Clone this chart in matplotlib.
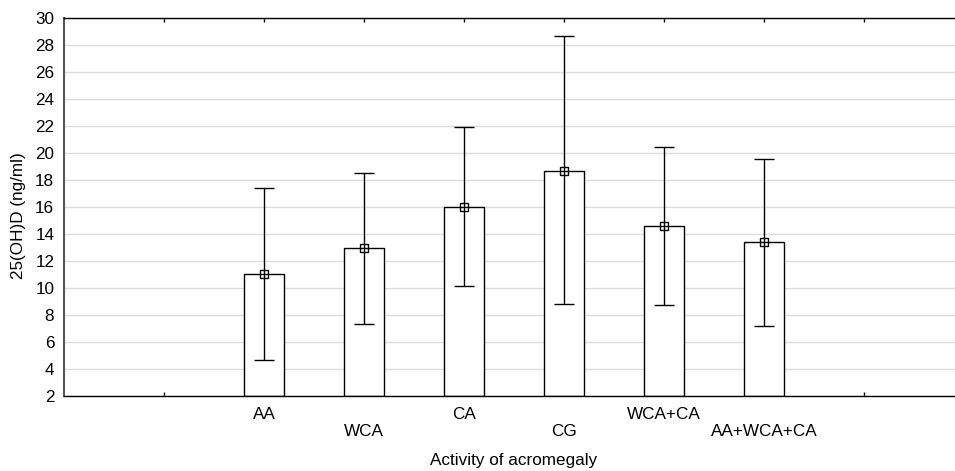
import matplotlib.pyplot as plt
import numpy as np

# group means and whisker ends
groups = ["AA", "WCA", "CA", "CG", "WCA+CA", "AA+WCA+CA"]
means = [11.06, 12.94, 16.02, 18.69, 14.59, 13.38]
upper = [17.43, 18.50, 21.90, 28.64, 20.44, 19.58]
lower = [4.69, 7.36, 10.17, 8.79, 8.76, 7.16]
y_ticks = [2, 4, 6, 8, 10, 12, 14, 16, 18, 20, 22, 24, 26, 28, 30]

plt.rcParams["font.family"] = ["Liberation Sans", "DejaVu Sans"]
fs = 12.3

fig = plt.figure(figsize=(9.55, 4.71), dpi=100)
# axes runs past the right edge on purpose (original is cropped)
ax = fig.add_axes([64 / 955, 75 / 471, 900 / 955, 378 / 471])

pos = np.arange(2, 2 + len(groups))
means = np.array(means)
err = np.vstack([means - np.array(lower), np.array(upper) - means])

ax.bar(pos, means - 2, bottom=2, width=0.4, color="white",
       edgecolor="black", linewidth=1.0, zorder=2)
ax.errorbar(pos, means, yerr=err, fmt="s", ms=5.5, mfc="none", mec="black",
            mew=1.0, ecolor="black", elinewidth=1.0, capsize=7.5,
            capthick=1.0, zorder=3)

ax.set_xlim(0, 9)
ax.set_ylim(2, 30)
ax.set_yticks(y_ticks)
ax.tick_params(axis="y", length=0, labelsize=fs, pad=7)
ax.yaxis.grid(True, color="#dcdcdc", linewidth=1.0, zorder=0)
ax.set_axisbelow(True)

ax.set_xticks(np.arange(1, 9))
ax.set_xticklabels([])
ax.tick_params(axis="x", direction="in", length=3, top=True, width=1.0)
# staggered category labels, two rows
for i, (p, g) in enumerate(zip(pos, groups)):
    yoff = -0.049 if i % 2 == 0 else -0.095
    ax.text(p, yoff, g, transform=ax.get_xaxis_transform(), ha="center",
            va="center", fontsize=fs)

ax.text(4.5, -0.171, "Activity of acromegaly", transform=ax.get_xaxis_transform(),
        ha="center", va="center", fontsize=fs)
ax.text(18 / 955, 0.543, "25(OH)D (ng/ml)", transform=fig.transFigure,
        rotation=90, ha="center", va="center", fontsize=fs)

ax.spines["left"].set_color("#555555")
ax.spines["left"].set_linewidth(1.5)
ax.spines["right"].set_visible(False)
for s in ["bottom", "top"]:
    ax.spines[s].set_color("black")
    ax.spines[s].set_linewidth(1.0)

fig.savefig("out.png", dpi=100)
